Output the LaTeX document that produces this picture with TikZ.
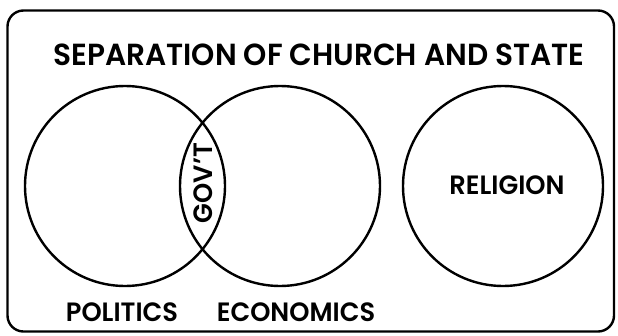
\documentclass[tikz,border=0pt]{standalone}
\usepackage{fontspec}
\newfontfamily\fut{Poppins SemiBold}
\newfontfamily\futn{Poppins SemiBold}[FakeStretch=0.97]
\begin{document}
\begin{tikzpicture}[x=1pt,y=-1pt,
  ring/.style={draw=black,line width=2.4pt},
  lbl/.style={inner sep=0pt,font=\futn\fontsize{26.5}{26.5}\selectfont},
  ttl/.style={inner sep=0pt,font=\futn\fontsize{30.5}{30.5}\selectfont}]
\useasboundingbox (0,0) rectangle (618,335);
\draw[line width=2.4pt,rounded corners=16pt] (7.5,10.5) rectangle (614,331.5);
\node[ttl] (title) at (319,55) {SEPARATION OF CHURCH AND STATE};
\node[ring,circle,minimum size=200pt,inner sep=0pt] (pol) at (125,186) {};
\node[ring,circle,minimum size=200pt,inner sep=0pt] (eco) at (280,186) {};
\node[ring,circle,minimum size=200pt,inner sep=0pt] (rel) at (503,186) {};
\node[lbl,rotate=90] (gov) at (203,183) {GOV’T};
\node[lbl] (religion) at (507,185) {RELIGION};
\node[lbl] (politics) at (122,312) {POLITICS};
\node[lbl] (economics) at (296,312) {ECONOMICS};
\end{tikzpicture}
\end{document}
